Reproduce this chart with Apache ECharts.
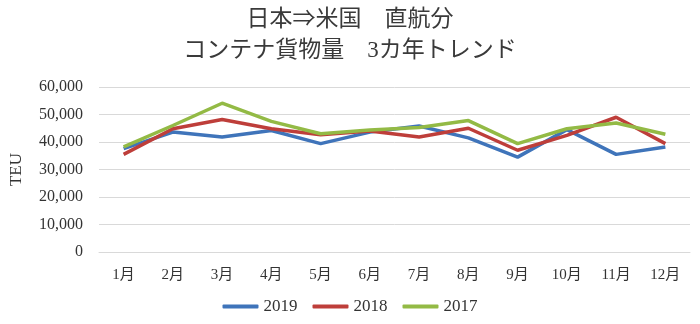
<!DOCTYPE html>
<html>
<head>
<meta charset="utf-8">
<script src="https://cdn.jsdelivr.net/npm/echarts@6/dist/echarts.min.js"></script>
<style>
html,body{margin:0;padding:0;background:#fff;}
#chart{width:700px;height:324px;}
</style>
</head>
<body>
<div id="chart"></div>
<script>
var titleLines = ['日本⇒米国　直航分', 'コンテナ貨物量　3カ年トレンド'];
var months = ['1月','2月','3月','4月','5月','6月','7月','8月','9月','10月','11月','12月'];
var seriesNames = ['2019', '2018', '2017'];
var values2019 = [37600, 43600, 41800, 44200, 39400, 43600, 45800, 41500, 34500, 44500, 35500, 38200];
var values2018 = [35500, 44800, 48200, 44800, 42600, 44000, 41800, 45000, 37000, 42400, 49000, 39400];
var values2017 = [38200, 46000, 54100, 47500, 43000, 44400, 45300, 47800, 39400, 44800, 46900, 42800];
var colors = ['#3f74ba', '#be3e3a', '#93ba45'];

var serifFont = '"Liberation Serif", "Noto Sans CJK JP", serif';
var chart = echarts.init(document.getElementById('chart'), null, {renderer: 'canvas'});
var allValues = [values2019, values2018, values2017];
chart.setOption({
  animation: false,
  backgroundColor: '#fff',
  color: colors,
  title: {
    text: titleLines.join('\n'),
    left: 'center',
    top: -1,
    textStyle: {fontFamily: serifFont, fontSize: 23, fontWeight: 'normal', color: '#3a3a3a', lineHeight: 31}
  },
  legend: {
    data: seriesNames,
    bottom: 4,
    left: 'center',
    icon: 'roundRect',
    itemWidth: 36,
    itemHeight: 4,
    itemGap: 15,
    textStyle: {fontFamily: serifFont, fontSize: 17, color: '#333'}
  },
  grid: {left: 93, right: 10, top: 87, bottom: 72},
  xAxis: {
    type: 'category',
    data: months,
    boundaryGap: true,
    axisLine: {show: true, lineStyle: {color: '#d9d9d9', width: 1}},
    axisTick: {show: false},
    axisLabel: {fontFamily: serifFont, fontSize: 15, color: '#333', margin: 16}
  },
  yAxis: {
    type: 'value',
    min: 0,
    max: 60000,
    interval: 10000,
    name: 'TEU',
    nameLocation: 'middle',
    nameGap: 74,
    nameTextStyle: {fontFamily: serifFont, fontSize: 17, color: '#333'},
    axisLine: {show: false},
    axisTick: {show: false},
    splitLine: {lineStyle: {color: '#d9d9d9', width: 1}},
    axisLabel: {
      fontFamily: serifFont, fontSize: 16, color: '#333', margin: 16,
      formatter: function (v) { return v.toLocaleString('en-US'); }
    }
  },
  series: seriesNames.map(function (n, i) {
    return {
      name: n,
      type: 'line',
      data: allValues[i],
      symbol: 'none',
      lineStyle: {width: 3.5, color: colors[i]},
      itemStyle: {color: colors[i]}
    };
  })
});
</script>
</body>
</html>
